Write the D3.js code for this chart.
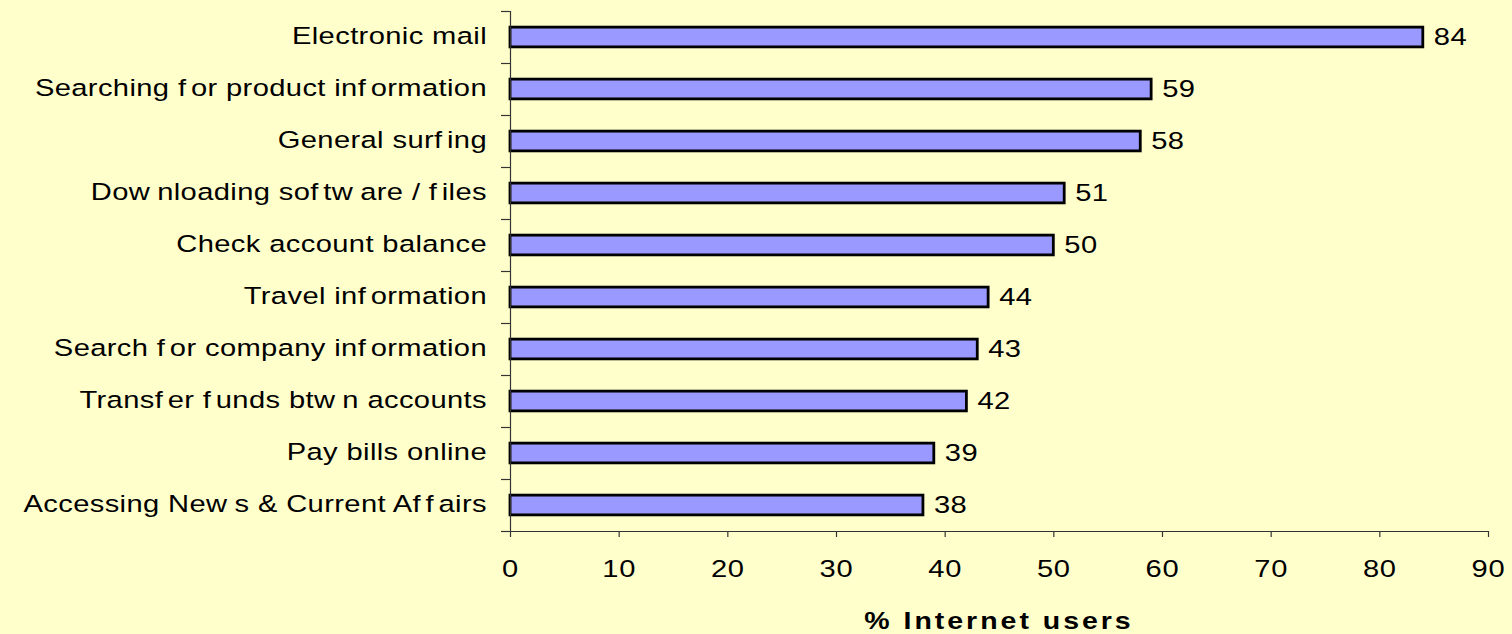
<!DOCTYPE html>
<html>
<head>
<meta charset="utf-8">
<script src="https://cdn.jsdelivr.net/npm/d3@7"></script>
<style>
  html, body { margin: 0; padding: 0; background: #ffffcc; }
  svg { display: block; }
  text { font-family: "Liberation Sans", Arial, sans-serif; fill: #000; }
</style>
</head>
<body>
<div id="chart"></div>
<script>
// Chart data, top to bottom
const activities = [
  "Electronic mail",
  "Searching for product information",
  "General surfing",
  "Downloading software / files",
  "Check account balance",
  "Travel information",
  "Search for company information",
  "Transfer funds btwn accounts",
  "Pay bills online",
  "Accessing News & Current Affairs"
];
const percentUsers = [84, 59, 58, 51, 50, 44, 43, 42, 39, 38];
const xTicks = [0, 10, 20, 30, 40, 50, 60, 70, 80, 90];
const xTitle = "% Internet users";

const width = 1512,
    height = 634,
    fontSize = 23.5,
    stretch = 1.24,  // the original text is a bit wide, stretch it sideways
    wGap = 7,        // old renderer leaves a gap after "w"
    fGap = 4.5;      // ... and a smaller one after "f"

const plot = {left: 510, right: 1488, top: 11, bottom: 531};

const svg = d3.select('#chart').append('svg')
  .attr('width', width)
  .attr('height', height);

svg.append('rect')
  .attr('width', width)
  .attr('height', height)
  .attr('fill', '#ffffcc');

const x = d3.scaleLinear()
  .domain([0, 90])
  .range([plot.left, plot.right]);

// paddingOuter = paddingInner / 2 keeps the step at range / n
const y = d3.scaleBand()
  .domain(activities)
  .range([plot.top, plot.bottom])
  .paddingInner(0.62)
  .paddingOuter(0.31);

// Category boundary ticks on the left axis
const yEdges = d3.scaleLinear()
  .domain([0, activities.length])
  .range([plot.bottom, plot.top]);

const data = activities.map((name, i) => ({name: name, value: percentUsers[i]}));
const mid = d => y(d.name) + y.bandwidth() / 2;

// Bars
svg.append('g')
  .selectAll('rect')
  .data(data)
  .join('rect')
    .attr('x', x(0))
    .attr('y', d => y(d.name))
    .attr('width', d => x(d.value) - x(0))
    .attr('height', y.bandwidth())
    .attr('fill', '#9999ff')
    .attr('stroke', '#000')
    .attr('stroke-width', 2.8);

// Value labels
svg.append('g')
  .selectAll('text')
  .data(data)
  .join('text')
    .attr('transform', d => `translate(${x(d.value) + 11},${mid(d) + 8}) scale(${stretch},1)`)
    .attr('font-size', fontSize)
    .attr('letter-spacing', 0.3)
    .text(d => d.value);

// Split a label after each w / f so the gap can be put back
function pieces(str) {
  return str.match(/[^wf]*[wf]|[^wf]+$/g) || [str];
}

// Category labels
const labels = svg.append('g')
  .selectAll('text')
  .data(data)
  .join('text')
    .attr('transform', d => `translate(487,${mid(d) + 7}) scale(${stretch},1)`)
    .attr('text-anchor', 'end')
    .attr('font-size', fontSize)
    .attr('letter-spacing', 0.3);

labels.selectAll('tspan')
  .data(d => pieces(d.name).map((p, i, all) => ({text: p, prev: i ? all[i - 1].slice(-1) : null})))
  .join('tspan')
    .attr('dx', p => p.prev === 'w' ? wGap / stretch : p.prev === 'f' ? fGap / stretch : 0)
    .text(p => p.text);

// Left axis, ticks between categories
const yAxis = svg.append('g')
  .attr('transform', `translate(${plot.left},0)`)
  .call(d3.axisLeft(yEdges).ticks(activities.length).tickSize(9).tickFormat(''));
yAxis.selectAll('line, path').attr('stroke', '#333').attr('stroke-width', 1.2);

// Bottom axis
const xAxis = svg.append('g')
  .attr('transform', `translate(0,${plot.bottom})`)
  .call(d3.axisBottom(x).tickValues(xTicks).tickSize(6).tickSizeOuter(0).tickPadding(23));
xAxis.selectAll('line, path').attr('stroke', '#333').attr('stroke-width', 1.2);
xAxis.selectAll('text')
  .attr('font-size', fontSize)
  .attr('letter-spacing', 0.6)
  .attr('transform', `scale(${stretch},1)`)
  .attr('fill', '#000')
  .style('font-family', '"Liberation Sans", Arial, sans-serif');

// Axis title
svg.append('text')
  .attr('transform', `translate(${(plot.left + plot.right) / 2},629) scale(${stretch},1)`)
  .attr('text-anchor', 'middle')
  .attr('font-size', 23)
  .attr('font-weight', 'bold')
  .attr('letter-spacing', 2.4)
  .text(xTitle);
</script>
</body>
</html>
